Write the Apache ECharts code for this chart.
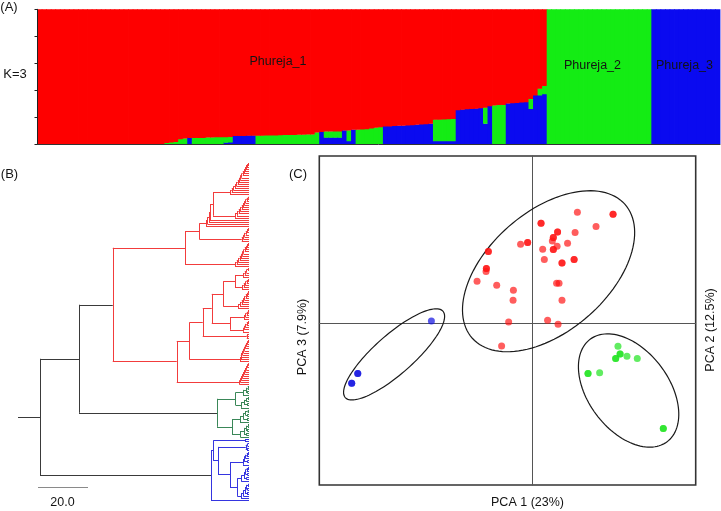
<!DOCTYPE html>
<html><head><meta charset="utf-8">
<script src="https://cdn.jsdelivr.net/npm/echarts@6/dist/echarts.min.js"></script>
<style>html,body{margin:0;padding:0;background:#fff}#c{width:721px;height:511px}</style>
</head><body><div id="c"></div>
<script>
// ===== Panel A: STRUCTURE (K=3) membership coefficients per individual =====
const Z = n => Array(n).fill(0);
const ONE = n => Array(n).fill(1);
// Phureja_2 (green) membership
const qGreen = [].concat(
  Z(28), [0.008,0.012],
  [0.015,0.035,0.04,0,0.045,0.045,0.045,0.048,0.048,0.05],
  [0.05,0.04,0.04,0,0,0,0,0,0.062,0.062],
  [0.063,0.064,0.064,0.065,0.066,0.066,0.067,0.068,0.068,0.07],
  [0.07,0.085,0,0.045,0.045,0.046,0.046,0,0.08,0],
  [0.105,0.108,0.11,0.115,0.12,0.125,0,0,0,0],
  [0,0,0,0,0,0,0,0.16,0.16,0.162],
  [0.163,0.165,0,0,0,0,0,0,0.12,0],
  [0.285,0.29,0.29,0,0,0,0,0,0.075,0],
  [0.05,0.06],
  ONE(23), Z(15)
);
// Phureja_3 (blue) membership
const qBlue = [].concat(
  Z(30),
  [0,0,0,0.045,0,0,0,0,0,0],
  [0,0.01,0.012,0.06,0.06,0.06,0.062,0.062,0,0],
  Z(10),
  [0,0,0.09,0.047,0.047,0.047,0.047,0.1,0.02,0.105],
  [0,0,0,0,0,0,0.13,0.13,0.133,0.135],
  [0.135,0.138,0.14,0.142,0.145,0.147,0.15,0.02,0.02,0.02],
  [0.02,0.02,0.25,0.255,0.258,0.26,0.262,0.265,0.15,0.28],
  [0,0,0,0.3,0.302,0.305,0.308,0.31,0.26,0.36],
  [0.36,0.37],
  Z(23), ONE(15)
);
// Phureja_1 (red): remainder, membership coefficients sum to 1
const qRed = qGreen.map((g, i) => +(1 - g - qBlue[i]).toFixed(4));
const individuals = qGreen.map((_, i) => String(i + 1));
const groupLabels = ['Phureja_1', 'Phureja_2', 'Phureja_3'];

// ===== Panel B: dendrogram (ultrametric), adjacent-leaf merge heights, top to bottom =====
const mergeHeights = [].concat(
  [0.4,0.8,1.2,1.6,2.0,2.5,3.0,3.5,4.0,4.5,5.0,5.6,6.2,6.9,7.6], [14.4],
  [0.4,0.9,1.4,1.9,2.4,2.9,3.5,4.1,4.8,5.6], [15.6],
  [16.0,16.6,17.2], [19.9],
  [0.4,0.8,1.3,1.8,2.3,2.9], [25.6],
  [0.4,0.8,1.2,1.7,2.2,2.7,3.2,3.7,4.3,4.9,5.6], [54.5],
  [0.4,1.0,1.7,2.4], [5.6],
  [0.4,0.9,1.5,2.1,2.8], [10.3],
  [0.4,0.8,1.3,1.8,2.3,2.9,3.6,4.4], [14.9],
  [0.4,0.9,1.4,2.0], [7.6],
  [0.4,0.9,1.4,1.9,2.4], [18.5],
  [0.6,0.9], [23.9],
  [0.4,0.7,1.0,1.4,1.8,2.2,2.6,3.0,3.3,3.6], [28.9],
  [0.3,0.7,1.1,1.5,1.9,2.3,2.7,3.1,3.4,3.8], [68.0],
  [0.5,1.2,0.6,2.4], [5.4],
  [0.4,1.1,2.0,0.7,3.2], [12.8],
  [0.5,1.4,0.6,2.2,0.8,3.6], [6.8],
  [0.4,1.2,0.7,2.0,1.1,3.4], [83.6],
  [1.6], [14.3],
  [0.6,1.3,0.8], [12.4],
  [0.4,0.9,1.4,1.9,0.6,2.4], [7.6],
  [0.4,0.9,1.4,0.6,2.0,1.0,3.0], [4.7],
  [0.4,1.0,0.6,1.6,0.8,2.2,3.2], [15.2]
);
const cladeSizes = [106, 25, 30];
const cladeColors = ['#f23c3c', '#3a8758', '#3535e0'];
const backboneColor = '#3a3a3a';
const rootStub = 8.8;
const scaleBar = 20.0;

// ===== Panel C: PCA scores =====
const pcaRed = [
  [0.277,0.683],[0.495,0.671],[0.495,0.671],[0.055,0.615],[0.055,0.615],[0.391,0.595],
  [0.156,0.561],[0.156,0.561],[0.263,0.558],[0.130,0.527],[0.130,0.527],[0.124,0.506],
  [-0.027,0.496],[-0.027,0.496],[-0.070,0.486],[0.217,0.492],[0.153,0.473],[0.065,0.455],
  [0.130,0.453],[0.130,0.453],[-0.267,0.440],[-0.267,0.440],[0.075,0.391],[0.257,0.391],
  [0.257,0.391],[0.183,0.370],[0.183,0.370],[-0.279,0.336],[-0.279,0.336],[-0.281,0.317],
  [-0.336,0.257],[-0.216,0.233],[0.150,0.245],[0.165,0.245],[-0.114,0.202],[-0.116,0.140],
  [0.183,0.140],[-0.143,0.006],[0.095,0.017],[0.159,-0.008],[-0.186,-0.142]
];
const pcaGreen = [
  [0.525,-0.144],[0.538,-0.191],[0.538,-0.191],[0.580,-0.205],[0.511,-0.220],[0.511,-0.220],
  [0.643,-0.220],[0.342,-0.312],[0.342,-0.312],[0.413,-0.308],[0.802,-0.651],[0.802,-0.651]
];
const pcaBlue = [[-0.615,0.012],[-1.065,-0.312],[-1.065,-0.312],[-1.102,-0.372],[-1.102,-0.372]];
// ellipses: [centerX, centerY, semiMajor, semiMinor, angleDeg]
const ellipses = [
  [0.101, 0.319, 0.623, 0.368, 41.6],
  [-0.843, -0.194, 0.400, 0.120, 41.8],
  [0.590, -0.417, 0.394, 0.247, -53.7]
];
const axisTitles = ['PCA 1 (23%)', 'PCA 3 (7.9%)', 'PCA 2 (12.5%)'];

// ---------- stacked membership rectangles (blue bottom, green, red top) ----------
const RED = '#fe0000', GREEN = '#14ec14', BLUE = '#0a0af0';
const clusterColors = [BLUE, GREEN, RED];
const stackRows = [];
individuals.forEach((_, i) => {
  const parts = [qBlue[i], qGreen[i], qRed[i]];
  let acc = 0;
  parts.forEach((v, c) => { if (v > 0) { stackRows.push([i, acc, acc + v, c]); acc += v; } });
});

// ---------- build dendrogram segments ----------
const L = mergeHeights.length + 1;
function cladeOf(k){ let s = 0; for (let c = 0; c < cladeSizes.length; c++){ s += cladeSizes[c]; if (k < s) return c; } return cladeSizes.length - 1; }
function build(lo, hi){
  if (lo === hi) return {lo, hi, h: 0, y: lo, leaf: true};
  let m = lo;
  for (let k = lo; k < hi; k++) if (mergeHeights[k] > mergeHeights[m]) m = k;
  const a = build(lo, m), b = build(m + 1, hi);
  return {lo, hi, h: mergeHeights[m], y: (a.y + b.y) / 2, kids: [a, b]};
}
const root = build(0, L - 1);
const segs = [];
(function walk(n){
  if (n.leaf) return;
  const c1 = cladeOf(n.lo), c2 = cladeOf(n.hi);
  const col = c1 === c2 ? cladeColors[c1] : backboneColor;
  segs.push({coords: [[n.h, n.kids[0].y], [n.h, n.kids[1].y]], lineStyle: {color: col}});
  n.kids.forEach(k => { segs.push({coords: [[n.h, k.y], [k.h, k.y]], lineStyle: {color: col}}); walk(k); });
})(root);
segs.push({coords: [[root.h + rootStub, root.y], [root.h, root.y]], lineStyle: {color: backboneColor}});
const scaleStart = root.h + rootStub - 8;
const scaleY = L - 1 - 6.3;
const scaleSeg = [{coords: [[scaleStart, scaleY], [scaleStart - scaleBar, scaleY]], lineStyle: {color: '#8a8a8a'}}];

const chart = echarts.init(document.getElementById('c'), null, {renderer: 'canvas'});
const FONT = '"Liberation Sans", Arial, sans-serif';
const txt = (x, y, t, size, extra) => Object.assign({type: 'text', x, y, silent: true, z: 100,
  style: {text: t, font: size + 'px ' + FONT, fill: '#141414', align: 'center', verticalAlign: 'middle'}}, extra || {});

chart.setOption({
  animation: false,
  backgroundColor: '#fff',
  grid: [
    {left: 37.5, top: 9.3, width: 682.5, height: 134.7},
    {left: 18, top: 163, width: 231, height: 337.7},
    {left: 319.3, top: 156, width: 376.4, height: 329, show: true, borderColor: '#333', borderWidth: 1.6, backgroundColor: 'transparent'}
  ],
  xAxis: [
    {type: 'category', gridIndex: 0, data: individuals, z: 5, axisLine: {lineStyle: {color: '#333', width: 1}}, axisTick: {show: false}, axisLabel: {show: false}},
    {type: 'value', gridIndex: 1, min: 0, max: 92.4, inverse: true, show: false},
    {type: 'value', gridIndex: 2, min: -1.3, max: 1.0, axisLine: {onZero: true, lineStyle: {color: '#555', width: 1}}, axisTick: {show: false}, axisLabel: {show: false}, splitLine: {show: false}}
  ],
  yAxis: [
    {type: 'value', gridIndex: 0, min: 0, max: 1, interval: 0.2, z: 5, axisLine: {show: true, lineStyle: {color: '#222', width: 1}}, axisTick: {show: true, length: 3, lineStyle: {color: '#222'}}, axisLabel: {show: false}, splitLine: {show: false}},
    {type: 'value', gridIndex: 1, min: 0, max: L - 1, inverse: true, show: false},
    {type: 'value', gridIndex: 2, min: -1.0, max: 1.03, axisLine: {onZero: true, lineStyle: {color: '#555', width: 1}}, axisTick: {show: false}, axisLabel: {show: false}, splitLine: {show: false}}
  ],
  series: [
    {type: 'custom', xAxisIndex: 0, yAxisIndex: 0, data: stackRows, encode: {x: 0, y: [1, 2]}, silent: true, clip: true,
      renderItem: function(params, api){
        const i = api.value(0);
        const pBot = api.coord([i, api.value(1)]), pTop = api.coord([i, api.value(2)]);
        const w = api.size([1, 0])[0];
        const pad = 0.4;
        return {type: 'rect', shape: {x: pBot[0] - w / 2 - pad, y: pTop[1] - pad, width: w + 2 * pad, height: pBot[1] - pTop[1] + pad},
          style: {fill: clusterColors[api.value(3)]}};
      }},
    {type: 'lines', coordinateSystem: 'cartesian2d', xAxisIndex: 1, yAxisIndex: 1, data: segs, lineStyle: {width: 1, opacity: 1}, silent: true},
    {type: 'lines', coordinateSystem: 'cartesian2d', xAxisIndex: 1, yAxisIndex: 1, data: scaleSeg, lineStyle: {width: 1, opacity: 1}, silent: true},
    {type: 'custom', xAxisIndex: 2, yAxisIndex: 2, data: ellipses, encode: {x: 0, y: 1}, clip: false, silent: true,
      renderItem: function(params, api){
        const cx = api.value(0), cy = api.value(1), a = api.value(2), b = api.value(3), t = api.value(4) * Math.PI / 180;
        const pts = [];
        for (let i = 0; i < 120; i++){
          const p = i / 120 * 2 * Math.PI, ex = a * Math.cos(p), ey = b * Math.sin(p);
          pts.push(api.coord([cx + ex * Math.cos(t) - ey * Math.sin(t), cy + ex * Math.sin(t) + ey * Math.cos(t)]));
        }
        return {type: 'polygon', shape: {points: pts}, style: {fill: 'none', stroke: '#1a1a1a', lineWidth: 1.2}};
      }},
    {type: 'scatter', xAxisIndex: 2, yAxisIndex: 2, data: pcaRed, symbolSize: 7, itemStyle: {color: '#ff1010', opacity: 0.68}, silent: true},
    {type: 'scatter', xAxisIndex: 2, yAxisIndex: 2, data: pcaGreen, symbolSize: 7, itemStyle: {color: '#1ee41e', opacity: 0.7}, silent: true},
    {type: 'scatter', xAxisIndex: 2, yAxisIndex: 2, data: pcaBlue, symbolSize: 7, itemStyle: {color: '#1010e0', opacity: 0.7}, silent: true}
  ],
  graphic: [
    txt(9, 7, '(A)', 13),
    txt(15, 74, 'K=3', 13),
    txt(278, 61.5, groupLabels[0], 12.5),
    txt(592.5, 66, groupLabels[1], 12.5),
    txt(684.5, 66, groupLabels[2], 12.5),
    txt(9.5, 174, '(B)', 13),
    txt(298, 174, '(C)', 13),
    txt(62.5, 503, scaleBar.toFixed(1), 12.5),
    txt(527.5, 503, axisTitles[0], 12.5),
    txt(303, 337, axisTitles[1], 12.5, {rotation: Math.PI / 2}),
    txt(711, 330, axisTitles[2], 12.5, {rotation: Math.PI / 2})
  ]
});
</script></body></html>
